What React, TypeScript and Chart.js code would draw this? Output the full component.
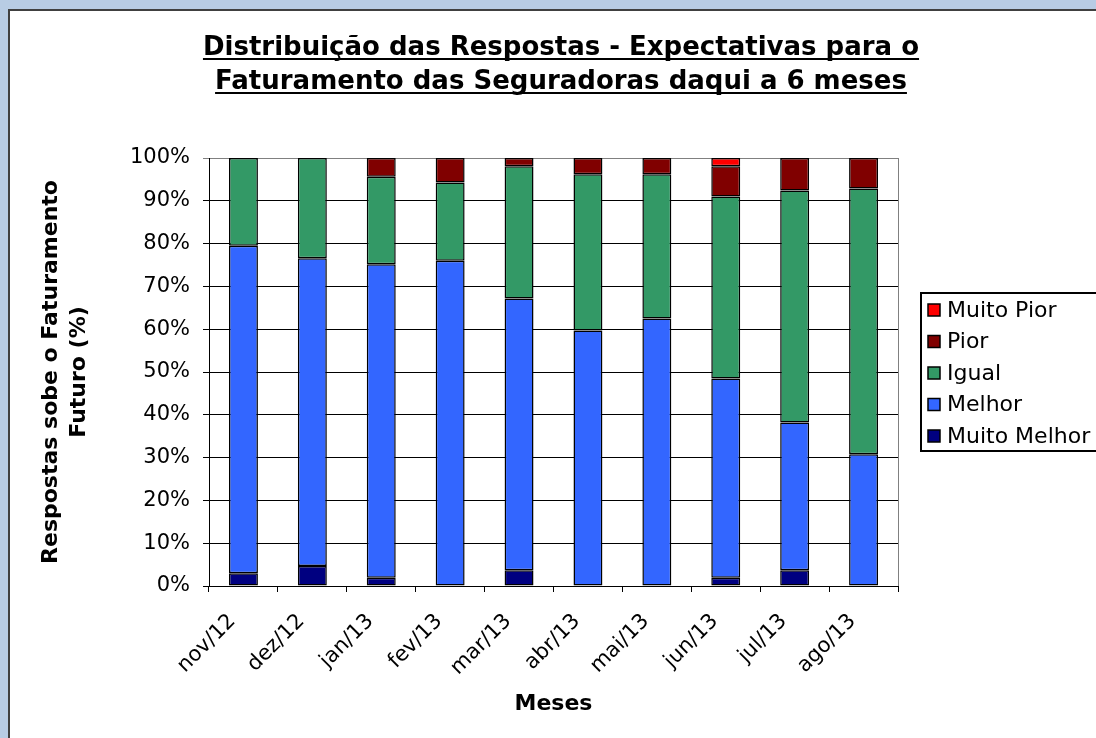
import React, { useEffect, useRef } from "react";
import { Chart, registerables } from "chart.js";

Chart.register(...registerables);

const categories = ["nov/12", "dez/12", "jan/13", "fev/13", "mar/13", "abr/13", "mai/13", "jun/13", "jul/13", "ago/13"];
const muitoMelhor = [3, 4.7, 1.9, 0, 3.7, 0, 0, 1.9, 3.7, 0];
const melhor = [76.5, 71.9, 73.3, 76, 63.5, 59.7, 62.5, 46.6, 34.5, 30.8];
const igual = [20.5, 23.4, 20.4, 18.3, 30.9, 36.5, 33.7, 42.5, 54.2, 62.1];
const pior = [0, 0, 4.4, 5.7, 1.9, 3.8, 3.8, 7.1, 7.6, 7.1];
const muitoPior = [0, 0, 0, 0, 0, 0, 0, 1.9, 0, 0];
const titleLines = ["Distribuição das Respostas - Expectativas para o", "Faturamento das Seguradoras daqui a 6 meses"];
const yTitle = ["Respostas sobe o Faturamento", "Futuro (%)"];
const xTitle = "Meses";

const W = 1086;
const H = 727;
const FONT = "'DejaVu Sans', Verdana, sans-serif";

const titlePlugin = {
  id: "underlinedTitle",
  afterDraw(chart: any) {
    const ctx = chart.ctx;
    ctx.save();
    ctx.font = `bold 26px ${FONT}`;
    ctx.fillStyle = "#000";
    ctx.textAlign = "center";
    ctx.textBaseline = "alphabetic";
    const cx = 551;
    const baselines = [44, 78];
    titleLines.forEach((line, i) => {
      const y = baselines[i];
      ctx.fillText(line, cx, y);
      const w = ctx.measureText(line).width;
      ctx.fillRect(cx - w / 2, y + 3, w, 2);
    });
    ctx.restore();
  },
};

const borderPlugin = {
  id: "rightBorder",
  afterDatasetsDraw(chart: any) {
    const { ctx, chartArea } = chart;
    ctx.save();
    ctx.strokeStyle = "#808080";
    ctx.lineWidth = 1;
    ctx.beginPath();
    ctx.moveTo(Math.round(chartArea.right) + 0.5, chartArea.top);
    ctx.lineTo(Math.round(chartArea.right) + 0.5, chartArea.bottom);
    ctx.stroke();
    ctx.restore();
  },
};

const legendPlugin = {
  id: "customLegend",
  afterDraw(chart: any) {
    const ctx = chart.ctx;
    ctx.save();
    ctx.strokeStyle = "#000";
    ctx.lineWidth = 2;
    ctx.strokeRect(911, 282, 200, 158);
    const items = chart.data.datasets.slice().reverse();
    ctx.font = `22px ${FONT}`;
    ctx.textBaseline = "middle";
    ctx.textAlign = "left";
    items.forEach((ds: any, i: number) => {
      const y = 299 + i * 31.5;
      ctx.fillStyle = ds.backgroundColor;
      ctx.fillRect(918, y - 6, 12, 12);
      ctx.lineWidth = 1.5;
      ctx.strokeStyle = "#000";
      ctx.strokeRect(918, y - 6, 12, 12);
      ctx.fillStyle = "#000";
      ctx.fillText(ds.label, 937, y + 1);
    });
    ctx.restore();
  },
};

export default function App() {
  const ref = useRef<HTMLCanvasElement>(null);
  useEffect(() => {
    if (!ref.current) return;
    const mk = (label: string, data: number[], color: string) => ({
      label,
      data,
      backgroundColor: color,
      borderColor: "#000",
      borderWidth: (c: any) => (c.raw ? 1.5 : 0),
      borderSkipped: false,
      inflateAmount: 0,
      categoryPercentage: 1,
      barPercentage: 0.42,
    });
    const chart = new Chart(ref.current, {
      type: "bar",
      data: {
        labels: categories,
        datasets: [
          mk("Muito Melhor", muitoMelhor, "#000080"),
          mk("Melhor", melhor, "#3366FF"),
          mk("Igual", igual, "#339966"),
          mk("Pior", pior, "#800000"),
          mk("Muito Pior", muitoPior, "#FF0000"),
        ],
      },
      options: {
        animation: false,
        responsive: false,
        layout: { padding: { top: 147, right: 198, left: 0, bottom: 0 } },
        plugins: { legend: { display: false }, title: { display: false }, tooltip: { enabled: false } },
        scales: {
          x: {
            stacked: true,
            afterFit: (s: any) => { s.height = H - 575; },
            grid: { display: true, drawOnChartArea: false, drawTicks: true, tickLength: 6, offset: true, color: "#000" },
            border: { display: true, color: "#000", width: 1 },
            ticks: { color: "#000", font: { family: FONT, size: 21 }, maxRotation: 45, minRotation: 45, padding: 17, labelOffset: -11 },
            title: { display: true, text: xTitle, color: "#000", font: { family: FONT, size: 22, weight: "bold" }, padding: { top: 0, bottom: 21 } },
          },
          y: {
            stacked: true,
            min: 0,
            max: 100,
            afterFit: (s: any) => { s.width = 199; },
            grid: { color: (c: any) => (c.tick && c.tick.value === 100 ? "#808080" : "#000"), tickLength: 6, drawTicks: true },
            border: { display: true, color: "#000", width: 1 },
            ticks: { stepSize: 10, color: "#000", font: { family: FONT, size: 21 }, padding: 13, callback: (v: any) => v + "%" },
            title: { display: true, text: yTitle, color: "#000", font: { family: FONT, size: 22, weight: "bold", lineHeight: 1.27 }, padding: { top: 27, bottom: 0 } },
          },
        },
      },
      plugins: [titlePlugin, borderPlugin, legendPlugin],
    });
    return () => chart.destroy();
  }, []);

  return (
    <div style={{ position: "fixed", inset: 0, background: "#B8CCE4", overflow: "hidden" }}>
      <div style={{ position: "absolute", left: 8, top: 9, width: 1100, height: 740, background: "#fff", border: "2px solid #404040", boxSizing: "content-box" }}>
        <canvas ref={ref} width={W} height={H} style={{ display: "block", width: W, height: H }} />
      </div>
    </div>
  );
}
